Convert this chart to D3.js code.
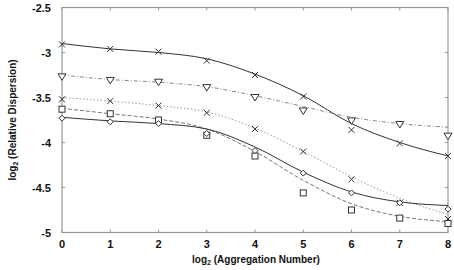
<!DOCTYPE html>
<html><head><meta charset="utf-8">
<script src="https://cdn.jsdelivr.net/npm/d3@7/dist/d3.min.js"></script>
<style>body{margin:0;background:#fff}svg{display:block}text{font-family:"Liberation Sans",Arial,sans-serif;font-weight:bold;fill:#111}</style>
</head><body><svg id="c" width="454" height="270"></svg>
<script>
const xs = [0,1,2,3,4,5,6,7,8];
const xTicks = [0,1,2,3,4,5,6,7,8];
const yTicks = [-2.5,-3,-3.5,-4,-4.5,-5];
// measured points
const s1 = [-2.91,-2.96,-2.99,-3.09,-3.25,-3.49,-3.86,-4.01,-4.15];
const s2 = [-3.27,-3.31,-3.33,-3.39,-3.50,-3.65,-3.76,-3.80,-3.93];
const s3 = [-3.52,-3.54,-3.59,-3.67,-3.85,-4.10,-4.41,-4.67,-4.85];
const s4 = [-3.63,-3.68,-3.75,-3.92,-4.15,-4.56,-4.75,-4.84,-4.90];
const s5 = [-3.73,-3.77,-3.79,-3.90,-4.09,-4.34,-4.56,-4.67,-4.74];
// fitted curves
const f1 = [-2.90,-2.96,-3.00,-3.07,-3.24,-3.48,-3.79,-4.00,-4.15];
const f2 = [-3.25,-3.30,-3.33,-3.38,-3.48,-3.60,-3.72,-3.79,-3.83];
const f3 = [-3.50,-3.54,-3.59,-3.66,-3.84,-4.10,-4.38,-4.62,-4.80];
const f4 = [-3.62,-3.68,-3.74,-3.85,-4.10,-4.42,-4.68,-4.82,-4.88];
const f5 = [-3.72,-3.76,-3.79,-3.85,-4.05,-4.33,-4.55,-4.66,-4.70];

const svg = d3.select("#c");
const L=62,R=448,T=7.5,B=232.5;
const x = d3.scaleLinear().domain([0,8]).range([L,R]);
const y = d3.scaleLinear().domain([-5,-2.5]).range([B,T]);
const axisCol="#999";
const g = svg.append("g");
g.append("rect").attr("x",L).attr("y",T).attr("width",R-L).attr("height",B-T)
 .attr("fill","none").attr("stroke",axisCol).attr("stroke-width",1.2);
xTicks.forEach(t=>{
  g.append("line").attr("x1",x(t)).attr("x2",x(t)).attr("y1",B).attr("y2",B-3).attr("stroke",axisCol);
  g.append("line").attr("x1",x(t)).attr("x2",x(t)).attr("y1",T).attr("y2",T+3).attr("stroke",axisCol);
  g.append("text").attr("x",x(t)).attr("y",B+15).attr("text-anchor","middle").attr("font-size",11).text(t);
});
yTicks.forEach(t=>{
  g.append("line").attr("x1",L).attr("x2",L+3).attr("y1",y(t)).attr("y2",y(t)).attr("stroke",axisCol);
  g.append("line").attr("x1",R).attr("x2",R-3).attr("y1",y(t)).attr("y2",y(t)).attr("stroke",axisCol);
  g.append("text").attr("x",L-11).attr("y",y(t)+4).attr("text-anchor","end").attr("font-size",11).text(String(t));
});
const xt = g.append("text").attr("x",256).attr("y",263).attr("text-anchor","middle").attr("font-size",10);
xt.append("tspan").text("log");
xt.append("tspan").attr("font-size",7).attr("dy",2).text("2");
xt.append("tspan").attr("dy",-2).text(" (Aggregation  Number)");
const yt = g.append("text").attr("transform","translate(16,"+((T+B)/2)+") rotate(-90)").attr("text-anchor","middle").attr("font-size",10);
yt.append("tspan").text("log");
yt.append("tspan").attr("font-size",7).attr("dy",2).text("2");
yt.append("tspan").attr("dy",-2).text(" (Relative  Dispersion)");

const line = d3.line().x((d,i)=>x(xs[i])).y(d=>y(d)).curve(d3.curveMonotoneX);
const series = [
  {pts:s1, fit:f1, col:"#333", dash:null, w:1, m:"x"},
  {pts:s2, fit:f2, col:"#888", dash:"4,2,1,2", w:1, m:"tri"},
  {pts:s3, fit:f3, col:"#999", dash:"1.5,2", w:1, m:"x"},
  {pts:s4, fit:f4, col:"#777", dash:"4,2", w:1, m:"sq"},
  {pts:s5, fit:f5, col:"#333", dash:null, w:1, m:"dia"}
];
series.forEach(s=>{
  g.append("path").attr("d",line(s.fit)).attr("fill","none").attr("stroke",s.col)
   .attr("stroke-width",s.w).attr("stroke-dasharray",s.dash);
  const mg = g.append("g").attr("fill","none").attr("stroke","#333").attr("stroke-width",1);
  s.pts.forEach((v,i)=>{
    const cx=x(xs[i]), cy=y(v);
    if(s.m==="x"){
      mg.append("path").attr("d",`M${cx-3},${cy-3}L${cx+3},${cy+3}M${cx-3},${cy+3}L${cx+3},${cy-3}`);
    } else if(s.m==="tri"){
      mg.append("path").attr("d",`M${cx-4},${cy-3}L${cx+4},${cy-3}L${cx},${cy+3.5}Z`).attr("fill","#fff");
    } else if(s.m==="sq"){
      mg.append("rect").attr("x",cx-3).attr("y",cy-3).attr("width",6).attr("height",6).attr("fill","#fff");
    } else {
      mg.append("path").attr("d",`M${cx},${cy-3}L${cx+3},${cy}L${cx},${cy+3}L${cx-3},${cy}Z`).attr("fill","#fff");
    }
  });
});
</script></body></html>
